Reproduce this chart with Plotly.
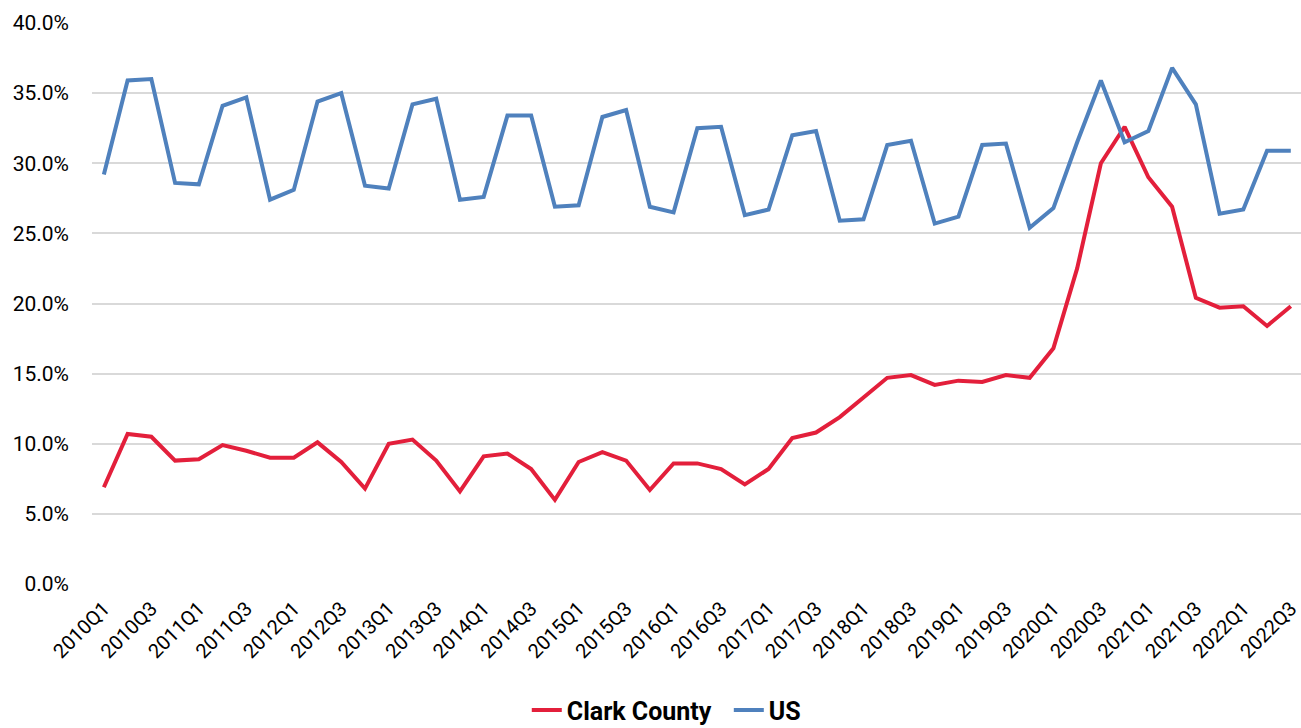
import plotly.graph_objects as go

quarters = [f"{y}Q{q}" for y in range(2010, 2023) for q in range(1, 5)][:51]

clark = [6.9, 10.7, 10.5, 8.8, 8.9, 9.9, 9.5, 9.0, 9.0, 10.1, 8.7, 6.8,
         10.0, 10.3, 8.8, 6.6, 9.1, 9.3, 8.2, 6.0, 8.7, 9.4, 8.8, 6.7,
         8.6, 8.6, 8.2, 7.1, 8.2, 10.4, 10.8, 11.9, 13.3, 14.7, 14.9, 14.2,
         14.5, 14.4, 14.9, 14.7, 16.8, 22.5, 30.0, 32.6, 29.0, 26.9, 20.4,
         19.7, 19.8, 18.4, 19.8]

us = [29.2, 35.9, 36.0, 28.6, 28.5, 34.1, 34.7, 27.4, 28.1, 34.4, 35.0, 28.4,
      28.2, 34.2, 34.6, 27.4, 27.6, 33.4, 33.4, 26.9, 27.0, 33.3, 33.8, 26.9,
      26.5, 32.5, 32.6, 26.3, 26.7, 32.0, 32.3, 25.9, 26.0, 31.3, 31.6, 25.7,
      26.2, 31.3, 31.4, 25.4, 26.8, 31.5, 35.9, 31.5, 32.3, 36.8, 34.2, 26.4,
      26.7, 30.9, 30.9]

tick_labels = quarters[::2]

fig = go.Figure()
fig.add_trace(go.Scatter(x=quarters, y=clark, name="Clark County\u00a0\u00a0", mode="lines",
                         line=dict(color="#E31F3B", width=4)))
fig.add_trace(go.Scatter(x=quarters, y=us, name="US", mode="lines",
                         line=dict(color="#4F81BD", width=4)))

fig.update_layout(
    width=1301, height=728,
    margin=dict(l=92, r=0, t=23, b=144, autoexpand=False),
    plot_bgcolor="white", paper_bgcolor="white",
    font=dict(family="Roboto", size=20, color="#000000"),
    showlegend=True,
    legend=dict(orientation="h", x=0.475, xanchor="center", y=-0.225, yanchor="middle",
                font=dict(family="Roboto", size=25, color="#000000", weight="bold"),
                itemwidth=30, tracegroupgap=0),
    xaxis=dict(type="category", range=[-0.5, 50.43], tickangle=-45,
               tickmode="array", tickvals=tick_labels, ticktext=tick_labels,
               tickfont=dict(size=20), showgrid=False, showline=False, zeroline=False,
               ticks="", ticklabelstandoff=8, automargin=False),
    yaxis=dict(range=[0, 40], dtick=5, tickformat=".1f", ticksuffix="%",
               showgrid=True, gridcolor="#D9D9D9", gridwidth=2, zeroline=False,
               showline=False, ticks="", ticklabelstandoff=22, automargin=False,
               tickfont=dict(size=21)),
)

fig.write_html("out.html")
